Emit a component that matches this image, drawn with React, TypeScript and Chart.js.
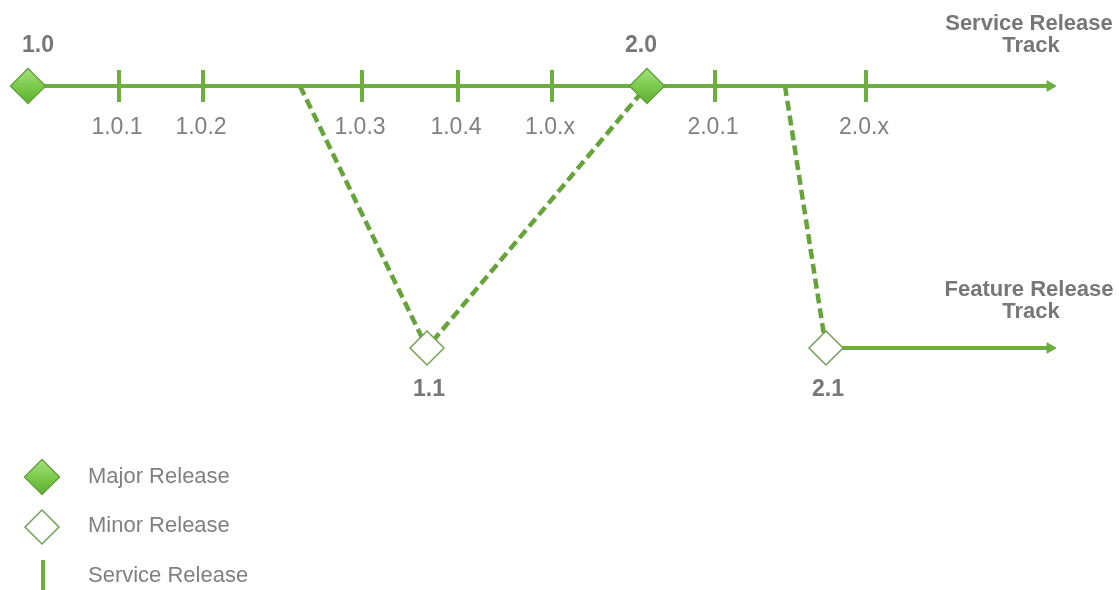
import React, { useEffect, useRef } from "react";
import { Chart, registerables } from "chart.js";

Chart.register(...registerables);

// ---- data ----
const SERVICE_TRACK_Y = 86;
const FEATURE_TRACK_Y = 348;
const TRACK_START_X = 28;
const TRACK_END_X = 1050;

const majorLabels = ["1.0", "2.0"];
const majorX = [28, 647];
const majorLabelDx = [10, -6];

const minorLabels = ["1.1", "2.1"];
const minorX = [427, 826];

const serviceLabels = ["1.0.1", "1.0.2", "1.0.3", "1.0.4", "1.0.x", "2.0.1", "2.0.x"];
const serviceX = [119, 203, 362, 458, 552, 715, 866];

const branchFromX = [300, 785];

const trackTitles = ["Service Release", "Feature Release"];
const trackTitleY = [24, 290];

const legendLabels = ["Major Release", "Minor Release", "Service Release"];
const legendY = [477, 526, 576];
const LEGEND_MARK_X = 42;
const LEGEND_TEXT_X = 88;

// ---- styles ----
const GREEN = "#6dae3f";
const GREEN_DASH = "#66a43a";
const TEXT_GRAY = "#808080";
const TEXT_BOLD = "#777777";
const FONT = "'Liberation Sans', Arial, Helvetica, sans-serif";

const majorFill = (ctx: any) => {
  const chart = ctx.chart;
  const ys = chart.scales && chart.scales.y;
  const raw = ctx.raw;
  if (!ys || !raw) return "#79c44c";
  const py = ys.getPixelForValue(raw.y);
  if (!Number.isFinite(py)) return "#79c44c";
  const g = chart.ctx.createLinearGradient(0, py - 17, 0, py + 17);
  g.addColorStop(0, "#a6e07f");
  g.addColorStop(0.5, "#7ccb4d");
  g.addColorStop(1, "#5fae33");
  return g;
};

const labelsPlugin = {
  id: "diagramLabels",
  afterDatasetsDraw(chart: any) {
    const { ctx, scales } = chart;
    const X = (v: number) => scales.x.getPixelForValue(v);
    const Y = (v: number) => scales.y.getPixelForValue(v);
    ctx.save();
    ctx.textAlign = "center";
    ctx.textBaseline = "middle";

    ctx.fillStyle = TEXT_BOLD;
    ctx.font = `bold 23px ${FONT}`;
    majorLabels.forEach((l, i) => ctx.fillText(l, X(majorX[i] + majorLabelDx[i]), Y(46)));
    minorLabels.forEach((l, i) => ctx.fillText(l, X(minorX[i] + 2), Y(390)));

    ctx.fillStyle = TEXT_GRAY;
    ctx.font = `23px ${FONT}`;
    serviceLabels.forEach((l, i) => ctx.fillText(l, X(serviceX[i] - 2), Y(128)));

    ctx.fillStyle = TEXT_BOLD;
    ctx.font = `bold 22px ${FONT}`;
    trackTitles.forEach((t, i) => {
      ctx.fillText(t, X(1029), Y(trackTitleY[i]));
      ctx.fillText("Track", X(1031), Y(trackTitleY[i] + 22));
    });

    ctx.fillStyle = TEXT_GRAY;
    ctx.font = `22px ${FONT}`;
    ctx.textAlign = "left";
    legendLabels.forEach((l, i) => ctx.fillText(l, X(LEGEND_TEXT_X), Y(legendY[i])));
    ctx.restore();
  },
};

export default function App() {
  const ref = useRef<HTMLCanvasElement | null>(null);

  useEffect(() => {
    document.body.style.margin = "0";
    document.body.style.background = "#ffffff";
    if (!ref.current) return;

    const lineDs = (data: { x: number; y: number }[], dashed: boolean, arrow: boolean) => ({
      type: "line" as const,
      data,
      showLine: true,
      borderColor: dashed ? GREEN_DASH : GREEN,
      borderWidth: dashed ? 4.5 : 4,
      borderDash: dashed ? [10, 5] : [],
      backgroundColor: GREEN,
      pointStyle: "triangle" as const,
      pointRotation: 90,
      pointRadius: data.map((_, i) => (arrow && i === data.length - 1 ? 6 : 0)),
      pointBorderWidth: 1,
      pointBorderColor: GREEN,
      pointBackgroundColor: GREEN,
      tension: 0,
      clip: false as any,
      order: 3,
    });

    const chart = new Chart(ref.current, {
      type: "scatter",
      data: {
        datasets: [
          {
            label: "Major",
            data: [
              ...majorX.map((x) => ({ x, y: SERVICE_TRACK_Y })),
              { x: LEGEND_MARK_X, y: legendY[0] },
            ],
            pointStyle: "rectRot",
            pointRadius: 17.5,
            pointBorderWidth: 1.5,
            pointBorderColor: "#62a33b",
            pointBackgroundColor: majorFill as any,
            clip: false as any,
            order: 0,
          } as any,
          {
            label: "Minor",
            data: [
              ...minorX.map((x) => ({ x, y: FEATURE_TRACK_Y })),
              { x: LEGEND_MARK_X, y: legendY[1] + 1 },
            ],
            pointStyle: "rectRot",
            pointRadius: 17,
            pointBorderWidth: 1.5,
            pointBorderColor: "#72a055",
            pointBackgroundColor: "#ffffff",
            clip: false as any,
            order: 0,
          } as any,
          {
            label: "Service",
            data: serviceX.map((x) => ({ x, y: SERVICE_TRACK_Y })),
            pointStyle: "line",
            pointRotation: 90,
            pointRadius: 16,
            pointBorderWidth: 4,
            pointBorderColor: GREEN,
            clip: false as any,
            order: 1,
          } as any,
          {
            label: "ServiceLegend",
            data: [{ x: LEGEND_MARK_X + 1, y: legendY[2] + 2 }],
            pointStyle: "line",
            pointRotation: 90,
            pointRadius: 18,
            pointBorderWidth: 4,
            pointBorderColor: GREEN,
            clip: false as any,
            order: 1,
          } as any,
          lineDs(
            [
              { x: TRACK_START_X, y: SERVICE_TRACK_Y },
              { x: TRACK_END_X, y: SERVICE_TRACK_Y },
            ],
            false,
            true
          ) as any,
          lineDs(
            [
              { x: branchFromX[0], y: SERVICE_TRACK_Y },
              { x: minorX[0], y: FEATURE_TRACK_Y },
              { x: majorX[1], y: SERVICE_TRACK_Y },
            ],
            true,
            false
          ) as any,
          lineDs(
            [
              { x: branchFromX[1], y: SERVICE_TRACK_Y },
              { x: minorX[1], y: FEATURE_TRACK_Y },
            ],
            true,
            false
          ) as any,
          lineDs(
            [
              { x: minorX[1], y: FEATURE_TRACK_Y },
              { x: TRACK_END_X, y: FEATURE_TRACK_Y },
            ],
            false,
            true
          ) as any,
        ],
      },
      options: {
        animation: false,
        responsive: true,
        maintainAspectRatio: false,
        layout: { padding: 0, autoPadding: false },
        plugins: {
          legend: { display: false },
          tooltip: { enabled: false },
        },
        events: [],
        scales: {
          x: { type: "linear", min: 0, max: 1119, display: false },
          y: { type: "linear", min: 0, max: 590, reverse: true, display: false },
        },
      },
      plugins: [labelsPlugin],
    });
    return () => chart.destroy();
  }, []);

  return (
    <div style={{ width: 1119, height: 590, position: "relative", background: "#fff" }}>
      <canvas ref={ref} />
    </div>
  );
}
